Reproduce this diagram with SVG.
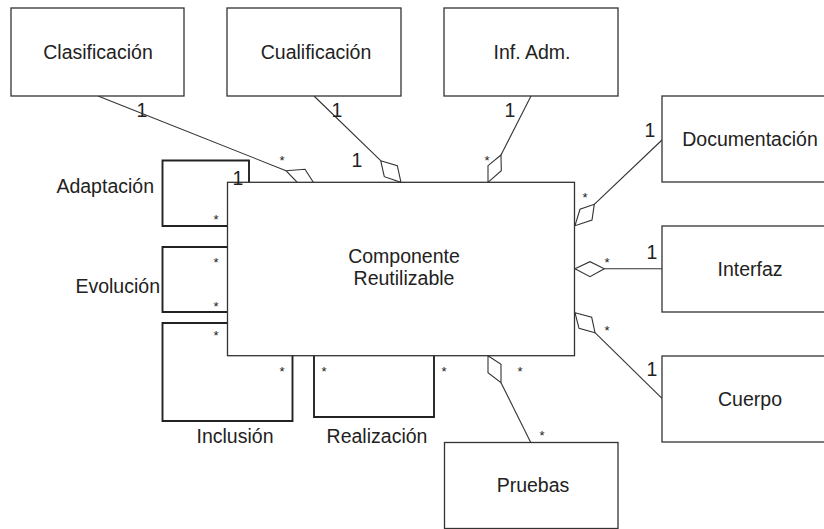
<svg xmlns="http://www.w3.org/2000/svg" width="824" height="529" viewBox="0 0 824 529">
<style>
.box{fill:#fff;stroke:#333;stroke-width:1.3}
.lbl{font-family:"Liberation Sans",Arial,sans-serif;font-size:19.5px;fill:#222;text-anchor:middle}
.side{font-family:"Liberation Sans",Arial,sans-serif;font-size:19.5px;fill:#222}
.one{font-family:"Liberation Sans",Arial,sans-serif;font-size:19.5px;fill:#222;text-anchor:middle}
.star{font-family:"Liberation Sans",Arial,sans-serif;font-size:13px;fill:#222;text-anchor:middle}
.ln{fill:none;stroke:#333;stroke-width:1.1}
.loop{fill:none;stroke:#222;stroke-width:1.9}
.dia{fill:#fff;stroke:#333;stroke-width:1.1;stroke-linejoin:miter}
</style>
<rect width="824" height="529" fill="#fff"/>
<g id="connectors">
  <line class="ln" x1="98" y1="96" x2="286" y2="170.7"/>
  <polygon class="dia" points="286,170.7 305,169.3 313.3,182.3 297.3,182.5"/>
  <line class="ln" x1="314" y1="96" x2="380.7" y2="160.7"/>
  <polygon class="dia" points="380.7,160.7 397.3,165.7 401,182.3 384.3,176.7"/>
  <line class="ln" x1="531" y1="96" x2="501" y2="155"/>
  <polygon class="dia" points="501,155 501.3,170.7 488,182.3 488,165.7"/>
  <line class="ln" x1="662" y1="140" x2="594.3" y2="204.3"/>
  <polygon class="dia" points="594.3,204.3 592,220 575,225.7 580,209.3"/>
  <line class="ln" x1="604.3" y1="268.7" x2="662" y2="268.7"/>
  <polygon class="dia" points="575,268.7 590,261.7 604.3,268.7 590,276.7"/>
  <line class="ln" x1="595" y1="332.7" x2="662" y2="398.3"/>
  <polygon class="dia" points="575,312.7 591.7,317.3 595,332.7 579,328.3"/>
  <line class="ln" x1="501" y1="382.7" x2="531" y2="443"/>
  <polygon class="dia" points="488,355.7 501,364.3 501,382.7 488,372.7"/>
  <polyline class="loop" points="227,226 162.5,226 162.5,160.5 249,160.5 249,182"/>
  <polyline class="loop" points="227,247 162.5,247 162.5,312 227,312"/>
  <polyline class="loop" points="227,323 162.5,323 162.5,421 292.5,421 292.5,355"/>
  <polyline class="loop" points="314,355 314,417 434,417 434,355"/>
</g>
<g id="clasificacion"><rect class="box" x="11" y="8" width="173" height="88"/><text class="lbl" x="98" y="59">Clasificación</text></g>
<g id="cualificacion"><rect class="box" x="227" y="8" width="174" height="88"/><text class="lbl" x="316" y="59">Cualificación</text></g>
<g id="infadm"><rect class="box" x="444" y="8" width="174" height="88"/><text class="lbl" x="532" y="59">Inf. Adm.</text></g>
<g id="documentacion"><rect class="box" x="662" y="96" width="174" height="86"/><text class="lbl" x="750" y="146">Documentación</text></g>
<g id="interfaz"><rect class="box" x="662" y="226" width="174" height="86"/><text class="lbl" x="750" y="276">Interfaz</text></g>
<g id="cuerpo"><rect class="box" x="662" y="356" width="174" height="86"/><text class="lbl" x="750" y="406">Cuerpo</text></g>
<g id="pruebas"><rect class="box" x="444.5" y="442.5" width="173.5" height="86"/><text class="lbl" x="533" y="492">Pruebas</text></g>
<g id="componente"><rect class="box" x="227.5" y="182.3" width="347" height="173.4"/><text class="lbl" x="404" y="263">Componente</text><text class="lbl" x="404" y="285">Reutilizable</text></g>
<g id="labels">
  <text class="side" x="154" y="193" text-anchor="end">Adaptación</text>
  <text class="side" x="160" y="293" text-anchor="end">Evolución</text>
  <text class="lbl" x="235" y="443">Inclusión</text>
  <text class="lbl" x="377" y="443">Realización</text>
  <text class="one" x="142" y="116.5">1</text>
  <text class="star" x="282" y="164.5">*</text>
  <text class="one" x="337" y="116.5">1</text>
  <text class="one" x="357" y="166.5">1</text>
  <text class="one" x="510" y="116.5">1</text>
  <text class="star" x="487" y="165">*</text>
  <text class="one" x="650" y="137">1</text>
  <text class="star" x="585" y="202">*</text>
  <text class="one" x="652" y="259">1</text>
  <text class="star" x="607" y="267">*</text>
  <text class="star" x="607" y="335">*</text>
  <text class="one" x="652" y="376">1</text>
  <text class="star" x="520" y="376">*</text>
  <text class="star" x="542" y="440">*</text>
  <text class="star" x="324" y="376">*</text>
  <text class="star" x="444" y="376">*</text>
  <text class="star" x="282" y="375.5">*</text>
  <text class="one" x="238" y="184.5">1</text>
  <text class="star" x="216" y="223.5">*</text>
  <text class="star" x="216" y="266.5">*</text>
  <text class="star" x="216" y="310.5">*</text>
  <text class="star" x="216" y="339.5">*</text>
</g>
</svg>
